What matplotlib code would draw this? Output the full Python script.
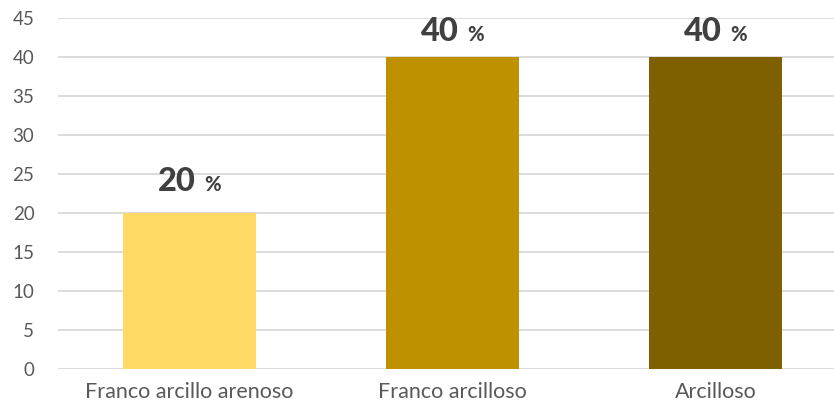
import matplotlib.pyplot as plt
from matplotlib.offsetbox import TextArea, HPacker, AnnotationBbox

categories = ["Franco arcillo arenoso", "Franco arcilloso", "Arcilloso"]
values = [20, 40, 40]
colors = ["#FFD966", "#BF9000", "#7F6000"]

plt.rcParams["font.family"] = ["Lato", "DejaVu Sans"]

fig = plt.figure(figsize=(8.34, 4.11), dpi=100)
ax = fig.add_axes([58 / 834, 42 / 411, 789 / 834, 351 / 411])

x = range(len(categories))
ax.bar(x, values, width=0.505, color=colors, zorder=2)

ax.set_xlim(-0.5, 2.5)
ax.set_ylim(0, 45)
ax.set_yticks(range(0, 50, 5))
ax.set_xticks(list(x))
ax.set_xticklabels(categories)
ax.grid(axis="y", color="#D9D9D9", linewidth=1.3, zorder=0)
for s in ax.spines.values():
    s.set_visible(False)
ax.tick_params(axis="both", length=0, colors="#595959")
ax.tick_params(axis="y", labelsize=13.5, pad=17)
ax.tick_params(axis="x", labelsize=15.5, pad=9)

# value labels: big bold number, smaller percent sign
# (labels near the top get pushed down a bit, like Excel does)
for xi, v in zip(x, values):
    num = TextArea(str(v), textprops=dict(fontsize=23.5, fontweight="black", color="#404040"))
    pct = TextArea("%", textprops=dict(fontsize=14.5, fontweight="black", color="#404040"))
    box = HPacker(children=[num, pct], align="baseline", pad=0, sep=6)
    off = 12 if v < 35 else 8
    ab = AnnotationBbox(box, (xi, v), xybox=(0, off), xycoords="data",
                        boxcoords="offset points", box_alignment=(0.5, 0),
                        frameon=False, pad=0)
    ax.add_artist(ab)

fig.savefig("out.png", dpi=100)
